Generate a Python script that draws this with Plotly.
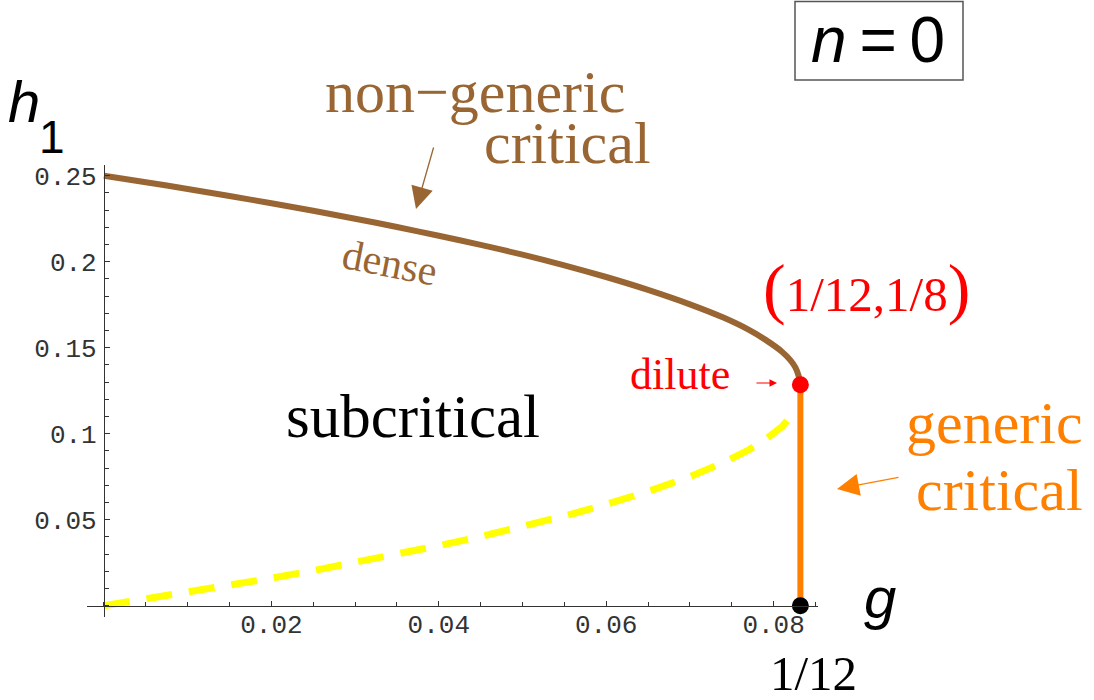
import plotly.graph_objects as go

# ---------------- data ----------------
dense_g = [0, 0.005, 0.01, 0.015, 0.02, 0.025, 0.03, 0.035, 0.04, 0.045, 0.05, 0.055,
           0.06, 0.065, 0.07, 0.074, 0.077, 0.079, 0.081, 0.082, 0.0826, 0.0830, 0.0832]
dense_h = [0.25, 0.2462, 0.2423, 0.2382, 0.2340, 0.2296, 0.2250, 0.2202, 0.2151, 0.2098,
           0.2041, 0.1979, 0.1911, 0.1836, 0.1752, 0.1675, 0.1605, 0.1547, 0.1477, 0.1428,
           0.1385, 0.1335, 0.1285]

lower_g = [0, 0.005, 0.01, 0.015, 0.02, 0.025, 0.03, 0.035, 0.04, 0.045, 0.05, 0.055,
           0.06, 0.065, 0.07, 0.074, 0.077, 0.079, 0.081, 0.0825]
lower_h = [0, 0.0038, 0.0077, 0.0118, 0.0160, 0.0204, 0.0250, 0.0298, 0.0349, 0.0402,
           0.0459, 0.0521, 0.0589, 0.0664, 0.0750, 0.0832, 0.0905, 0.0965, 0.1041, 0.1126]

generic_g = [0.0832, 0.0832]
generic_h = [0.0, 0.1285]

dilute_point = (0.0832, 0.1285)
origin_point = (0.0832, 0.0)

x_tickvals = [0.02, 0.04, 0.06, 0.08]
x_ticktext = ["0.02", "0.04", "0.06", "0.08"]
y_tickvals = [0.05, 0.1, 0.15, 0.2, 0.25]
y_ticktext = ["0.05", "0.1", "0.15", "0.2", "0.25"]

# ---------------- layout geometry ----------------
W, H = 1094, 700
ML, MR, MT, MB = 87, 276, 165, 83
PW, PH = W - ML - MR, H - MT - MB
XR = [-0.00203, -0.00203 + PW / 8370.0]
YR = [-0.00657, -0.00657 + PH / 1720.0]

def px(x):
    return (x - ML) / PW

def py(y):
    return (H - MB - y) / PH

BROWN = "#996633"
ORANGE = "#ff8000"
RED = "#ff0000"
SERIF = "Liberation Serif"
SANS = "Liberation Sans"

fig = go.Figure()
fig.add_trace(go.Scatter(x=lower_g, y=lower_h, mode="lines",
                         line=dict(color="#ffff00", width=7, dash="26px,17px"),
                         hoverinfo="skip"))
fig.add_trace(go.Scatter(x=dense_g, y=dense_h, mode="lines",
                         line=dict(color=BROWN, width=6, shape="spline", smoothing=0.6),
                         hoverinfo="skip"))
fig.add_trace(go.Scatter(x=generic_g, y=generic_h, mode="lines",
                         line=dict(color=ORANGE, width=6), hoverinfo="skip"))
fig.add_trace(go.Scatter(x=[dilute_point[0]], y=[dilute_point[1]], mode="markers",
                         marker=dict(color=RED, size=17), cliponaxis=False, hoverinfo="skip"))
fig.add_trace(go.Scatter(x=[origin_point[0]], y=[origin_point[1]], mode="markers",
                         marker=dict(color="black", size=17), cliponaxis=False, hoverinfo="skip"))

axis_common = dict(showgrid=False, zeroline=False, showline=True, linecolor="#333",
                   linewidth=1.2, ticks="inside", ticklen=5, tickwidth=1, tickcolor="#333",
                   tickfont=dict(family="Liberation Mono", size=26, color="#333"),
                   automargin=False, anchor="free")

fig.update_xaxes(range=XR, tickmode="array", tickvals=x_tickvals, ticktext=x_ticktext,
                 position=(0 - YR[0]) / (YR[1] - YR[0]), ticklabelstandoff=-5,
                 minor=dict(tickmode="linear", tick0=0, dtick=0.005, ticks="inside",
                            ticklen=4, tickcolor="#333", tickwidth=1),
                 **axis_common)
fig.update_yaxes(range=YR, tickmode="array", tickvals=y_tickvals, ticktext=y_ticktext,
                 position=(0 - XR[0]) / (XR[1] - XR[0]), ticklabelstandoff=2,
                 minor=dict(tickmode="linear", tick0=0, dtick=0.01, ticks="inside",
                            ticklen=4, tickcolor="#333", tickwidth=1),
                 **axis_common)

ann = []

def text(x, y, s, size, color="black", family=SERIF, xanchor="center", angle=0):
    ann.append(dict(x=px(x), y=py(y), xref="paper", yref="paper", text=s, showarrow=False,
                    xanchor=xanchor, yanchor="middle", textangle=angle,
                    font=dict(family=family, size=size, color=color)))

def arrow(hx, hy, tx, ty, color, width, size):
    ann.append(dict(x=px(hx), y=py(hy), xref="paper", yref="paper", text="",
                    showarrow=True, ax=tx - hx, ay=ty - hy, arrowhead=2,
                    arrowcolor=color, arrowwidth=width, arrowsize=size, standoff=0))

text(24, 101, "<i>h</i>", 58, family=SANS)
text(52, 137, "1", 46, family=SANS)
text(880, 597, "<i>g</i>", 58, family=SANS)
text(813, 673, "1/12", 49)
text(878, 40, "<i>n</i>\u2009=\u20090", 64, family=SANS)
text(475, 92, "non\u2212generic", 60, color=BROWN)
text(567, 143, "critical", 60, color=BROWN)
text(390, 263, "dense", 42, color=BROWN, angle=11)
text(866, 288, "<span style='font-size:68px'>(</span>1/12,1/8<span style='font-size:68px'>)</span>",
     49, color=RED)
text(680, 374, "dilute", 44, color=RED)
text(413, 416, "subcritical", 61)
text(1085, 423, "generic", 60, color=ORANGE, xanchor="right")
text(1085, 490, "critical", 60, color=ORANGE, xanchor="right")

arrow(416, 209, 434, 146, BROWN, 1.3, 3.4)
arrow(777, 383, 755, 383, RED, 1.0, 1.5)
arrow(837, 489, 900, 477, ORANGE, 1.3, 3.4)

fig.update_layout(
    width=W, height=H, margin=dict(l=ML, r=MR, t=MT, b=MB, pad=0),
    paper_bgcolor="white", plot_bgcolor="white", showlegend=False,
    annotations=ann,
    shapes=[dict(type="rect", xref="paper", yref="paper", x0=px(795), x1=px(963),
                 y0=py(80), y1=py(1.5), line=dict(color="#555", width=1.5))],
)

fig.write_html("out.html", config={"displayModeBar": False},
               post_script="document.body.style.margin='0';document.body.style.overflow='hidden';")
